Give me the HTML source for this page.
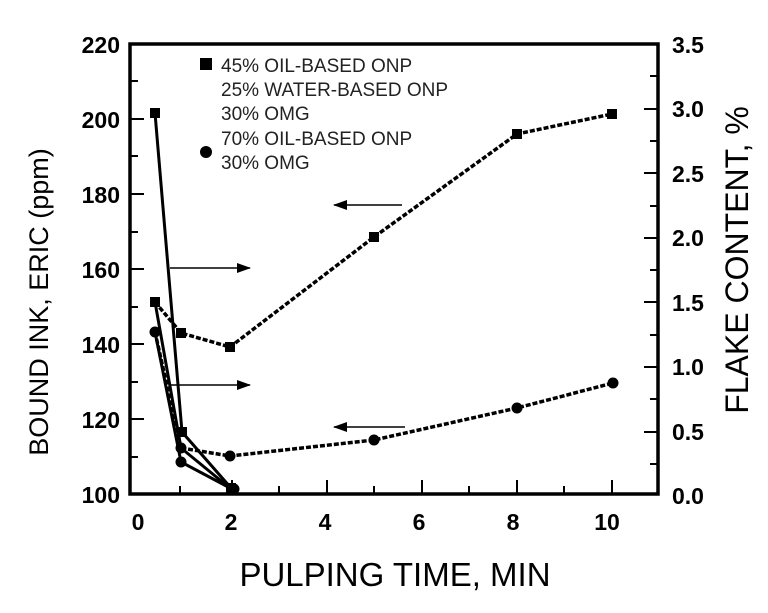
<!DOCTYPE html>
<html><head><style>body{margin:0;background:#fff}</style></head><body>
<svg width="768" height="608" viewBox="0 0 768 608" xmlns="http://www.w3.org/2000/svg" font-family="Liberation Sans, sans-serif">
<defs>
<marker id="ah" markerWidth="14" markerHeight="10" refX="13" refY="5" orient="auto" markerUnits="userSpaceOnUse"><path d="M0,0 L14,5 L0,10 Z" fill="#000"/></marker>
</defs>
<rect x="130" y="44" width="528" height="450" fill="none" stroke="#000" stroke-width="3.5"/>
<g stroke="#000" stroke-width="2">
<line x1="130" y1="81" x2="138" y2="81"/><line x1="130" y1="119" x2="144" y2="119"/><line x1="130" y1="156" x2="138" y2="156"/><line x1="130" y1="194" x2="144" y2="194"/><line x1="130" y1="232" x2="138" y2="232"/><line x1="130" y1="269" x2="144" y2="269"/><line x1="130" y1="307" x2="138" y2="307"/><line x1="130" y1="344" x2="144" y2="344"/><line x1="130" y1="382" x2="138" y2="382"/><line x1="130" y1="419" x2="144" y2="419"/><line x1="130" y1="457" x2="138" y2="457"/>
<line x1="658" y1="76" x2="650" y2="76"/><line x1="658" y1="109" x2="644" y2="109"/><line x1="658" y1="141" x2="650" y2="141"/><line x1="658" y1="173" x2="644" y2="173"/><line x1="658" y1="206" x2="650" y2="206"/><line x1="658" y1="238" x2="644" y2="238"/><line x1="658" y1="270" x2="650" y2="270"/><line x1="658" y1="302" x2="644" y2="302"/><line x1="658" y1="335" x2="650" y2="335"/><line x1="658" y1="367" x2="644" y2="367"/><line x1="658" y1="399" x2="650" y2="399"/><line x1="658" y1="432" x2="644" y2="432"/><line x1="658" y1="464" x2="650" y2="464"/>
<line x1="180" y1="494" x2="180" y2="486"/><line x1="232" y1="494" x2="232" y2="480"/><line x1="279" y1="494" x2="279" y2="486"/><line x1="327" y1="494" x2="327" y2="480"/><line x1="374" y1="494" x2="374" y2="486"/><line x1="422" y1="494" x2="422" y2="480"/><line x1="469" y1="494" x2="469" y2="486"/><line x1="517" y1="494" x2="517" y2="480"/><line x1="564" y1="494" x2="564" y2="486"/><line x1="612" y1="494" x2="612" y2="480"/>
</g>
<g font-weight="bold" font-size="23" fill="#000">
<g text-anchor="end"><text x="120" y="53">220</text><text x="120" y="128">200</text><text x="120" y="203">180</text><text x="120" y="278">160</text><text x="120" y="353">140</text><text x="120" y="428">120</text><text x="120" y="503">100</text></g>
<g text-anchor="start"><text x="672" y="53">3.5</text><text x="672" y="117">3.0</text><text x="672" y="182">2.5</text><text x="672" y="246">2.0</text><text x="672" y="311">1.5</text><text x="672" y="375">1.0</text><text x="672" y="440">0.5</text><text x="672" y="504">0.0</text></g>
<g text-anchor="middle"><text x="138" y="530">0</text><text x="231" y="530">2</text><text x="325" y="530">4</text><text x="419" y="530">6</text><text x="513" y="530">8</text><text x="607" y="530">10</text></g>
</g>
<text x="395" y="586" font-size="33" text-anchor="middle">PULPING TIME, MIN</text>
<text transform="translate(48,302) rotate(-90)" font-size="27" text-anchor="middle">BOUND INK, ERIC (ppm)</text>
<text transform="translate(748,260) rotate(-90)" font-size="32" text-anchor="middle">FLAKE CONTENT, %</text>
<g font-size="19" fill="#222">
<rect x="200" y="58" width="12" height="12" fill="#000"/>
<text x="221" y="72">45% OIL-BASED ONP</text>
<text x="221" y="96">25% WATER-BASED ONP</text>
<text x="221" y="120">30% OMG</text>
<circle cx="206" cy="152" r="6" fill="#000"/>
<text x="221" y="145">70% OIL-BASED ONP</text>
<text x="221" y="169">30% OMG</text>
</g>
<g stroke="#000" stroke-width="1.5" marker-end="url(#ah)">
<line x1="402" y1="205" x2="334" y2="205"/>
<line x1="170" y1="268" x2="250" y2="268"/>
<line x1="170" y1="385" x2="250" y2="385"/>
<line x1="405" y1="427" x2="334" y2="427"/>
</g>
<g fill="none" stroke="#000" stroke-width="3">
<polyline points="155,113 182,432 231,488"/>
<polyline points="155,302 181,448 231,489"/>
<polyline points="155,332 181,462 232,489"/>
</g>
<g fill="none" stroke="#000" stroke-width="3.5" stroke-dasharray="5,2">
<polyline points="155,302 181,333 230,347 374,237 517,134 612,114"/>
<polyline points="155,332 181,448 230,456 374,440 517,408 613,383"/>
</g>
<g fill="#000">
<rect x="150" y="108" width="10" height="10"/><rect x="177" y="427" width="10" height="10"/><rect x="226" y="483" width="10" height="10"/>
<rect x="150" y="297" width="10" height="10"/><rect x="176" y="328" width="10" height="10"/><rect x="225" y="342" width="10" height="10"/><rect x="369" y="232" width="10" height="10"/><rect x="512" y="129" width="10" height="10"/><rect x="607" y="109" width="10" height="10"/>
<circle cx="155" cy="332" r="5.5"/><circle cx="181" cy="448" r="5.5"/><circle cx="230" cy="456" r="5.5"/><circle cx="374" cy="440" r="5.5"/><circle cx="517" cy="408" r="5.5"/><circle cx="613" cy="383" r="5.5"/>
<circle cx="181" cy="462" r="5.5"/><circle cx="234" cy="489" r="5.5"/>
</g>
</svg>
</body></html>
